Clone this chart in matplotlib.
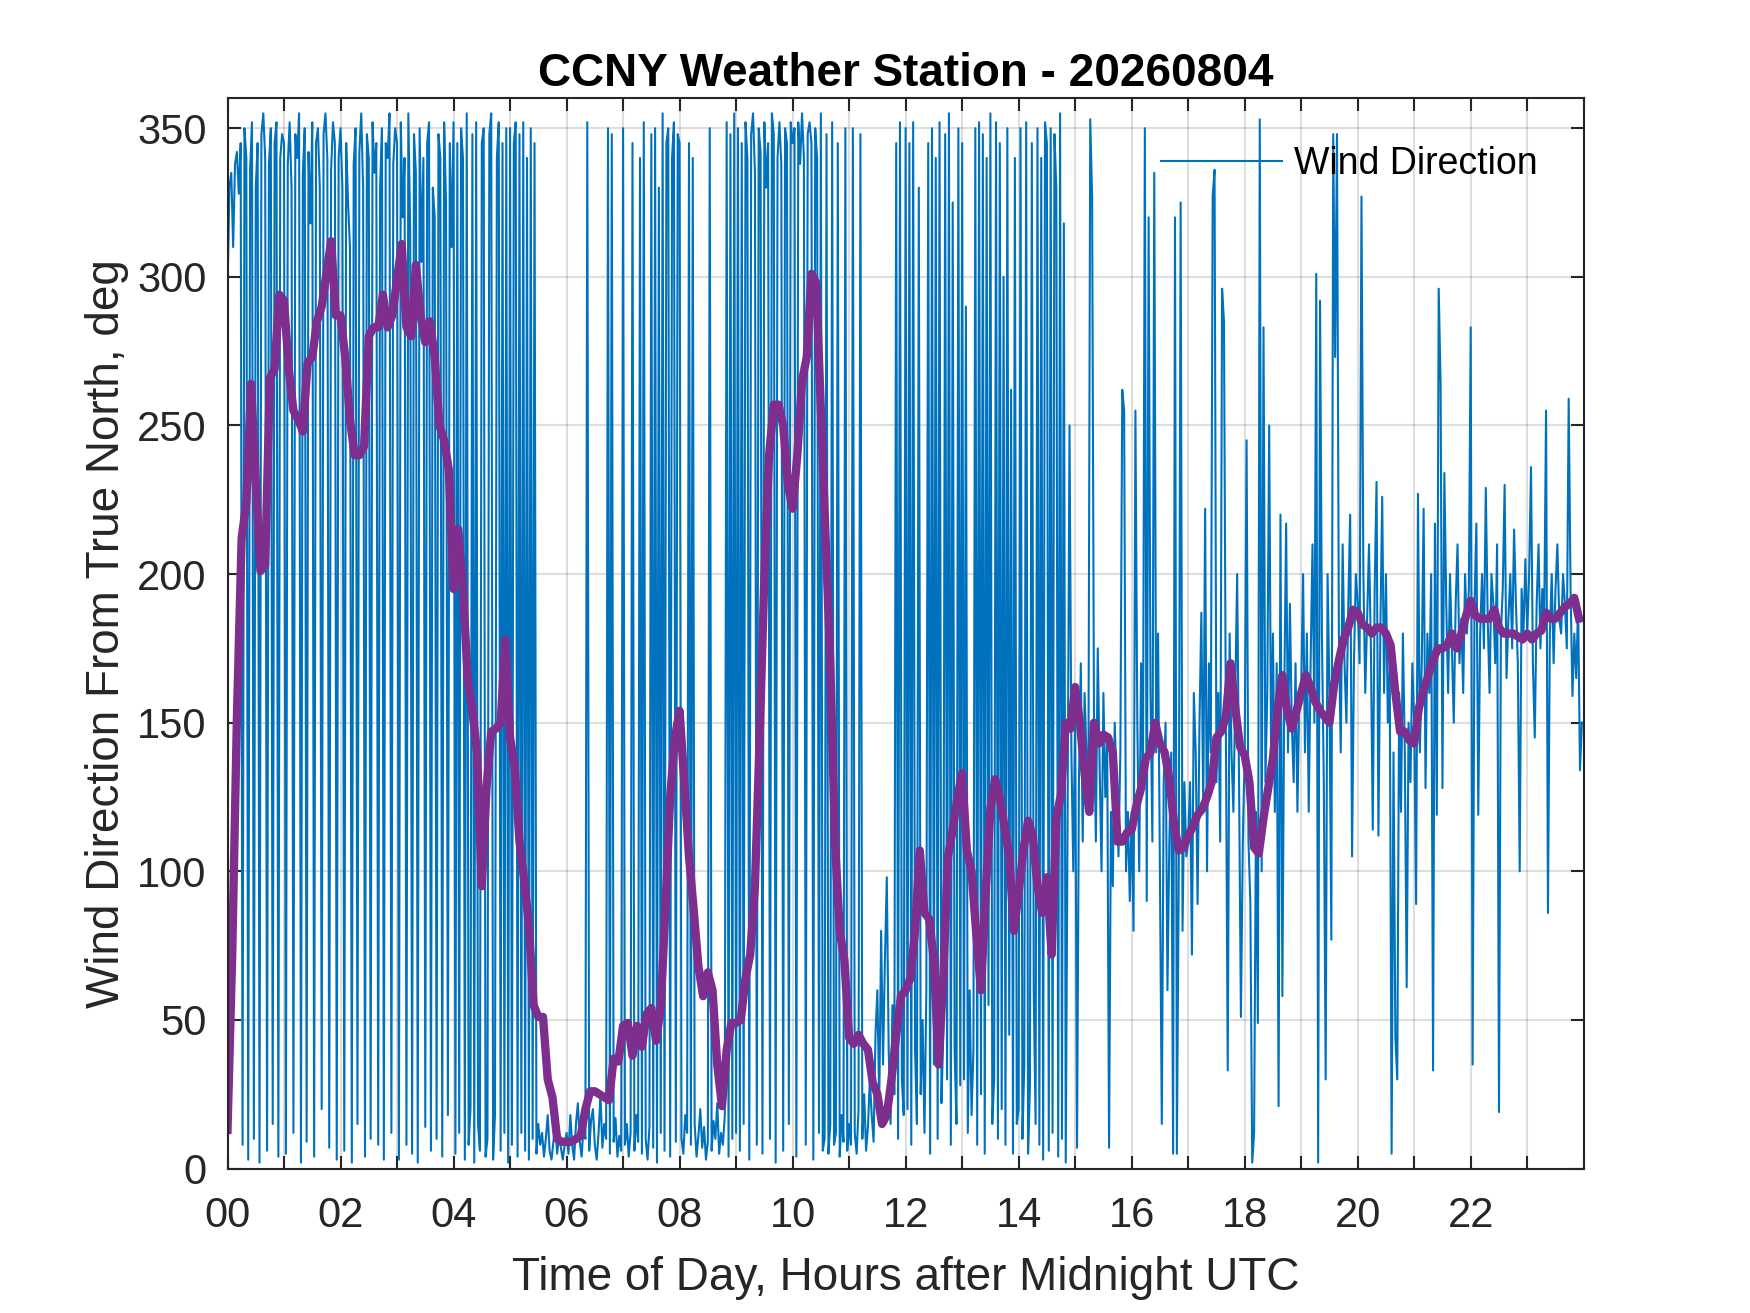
import numpy as np
import matplotlib.pyplot as plt

plt.rcParams["font.family"] = ["Liberation Sans", "DejaVu Sans"]

# raw wind direction, one value every 2 minutes (30 per hour), deg
dir_00_06 = [
    295, 330, 335, 310, 338, 342, 328, 345, 8, 350, 340, 3, 336, 352, 10, 330, 345, 2, 348, 355, 340, 6, 338, 350, 15, 345, 352, 4, 340, 348,
    345, 5, 338, 352, 330, 12, 348, 340, 355, 2, 335, 350, 9, 342, 318, 352, 4, 345, 350, 330, 20, 348, 355, 340, 7, 336, 352, 345, 3, 340,
    350, 330, 6, 345, 325, 310, 2, 338, 350, 15, 342, 355, 330, 4, 348, 340, 10, 352, 335, 345, 8, 330, 350, 3, 345, 340, 355, 12, 338, 350,
    345, 3, 352, 320, 340, 8, 355, 315, 5, 348, 335, 2, 350, 305, 340, 14, 345, 352, 6, 330, 320, 10, 348, 340, 4, 352, 325, 18, 345, 310,
    352, 5, 345, 12, 350, 340, 3, 355, 8, 20, 348, 2, 352, 15, 6, 345, 350, 4, 10, 348, 355, 3, 18, 340, 352, 6, 345, 12, 350, 2,
    350, 8, 345, 352, 4, 348, 12, 352, 6, 340, 3, 350, 10, 345, 5, 15, 8, 12, 4, 10, 18, 6, 3, 9, 14, 5, 11, 7, 3, 8,
]
dir_06_12 = [
    12, 5, 18, 8, 3, 15, 22, 9, 4, 14, 10, 352, 6, 16, 20, 8, 3, 12, 25, 7, 15, 10, 350, 5, 348, 9, 17, 4, 11, 6,
    350, 8, 15, 4, 12, 345, 6, 18, 9, 340, 5, 352, 10, 3, 14, 348, 7, 350, 2, 330, 12, 355, 6, 345, 350, 4, 340, 352, 9, 348,
    345, 10, 5, 18, 12, 345, 8, 340, 15, 4, 11, 20, 7, 14, 3, 9, 350, 6, 16, 10, 22, 5, 12, 8, 18, 352, 4, 348, 10, 355,
    12, 350, 6, 345, 15, 352, 340, 3, 348, 355, 335, 8, 350, 342, 5, 352, 330, 345, 10, 355, 348, 2, 340, 352, 338, 6, 350, 345, 15, 352,
    345, 350, 4, 352, 338, 355, 340, 8, 348, 352, 345, 3, 350, 340, 12, 355, 6, 10, 348, 5, 15, 352, 8, 12, 345, 4, 18, 9, 350, 6,
    15, 8, 350, 12, 5, 20, 348, 10, 25, 6, 14, 30, 18, 9, 45, 60, 22, 80, 35, 70, 98, 40, 15, 55, 25, 345, 10, 352, 30, 18,
]
dir_12_18 = [
    350, 20, 345, 8, 352, 40, 15, 330, 25, 50, 12, 60, 345, 5, 350, 35, 340, 10, 352, 22, 45, 348, 30, 355, 8, 325, 40, 15, 350, 28,
    345, 30, 290, 12, 60, 18, 40, 350, 8, 352, 25, 348, 5, 340, 55, 355, 15, 30, 352, 10, 345, 20, 300, 8, 350, 45, 262, 5, 340, 15,
    20, 350, 10, 35, 352, 5, 28, 345, 60, 15, 350, 8, 340, 3, 352, 345, 6, 350, 12, 348, 330, 4, 355, 10, 318, 2, 120, 250, 140, 100,
    155, 7, 130, 170, 110, 160, 140, 120, 353, 327, 150, 110, 175, 135, 100, 160, 125, 145, 7, 120, 95, 150, 130, 105, 140, 262, 255, 100, 120, 90,
    120, 80, 255, 150, 100, 170, 130, 350, 90, 320, 160, 110, 335, 140, 180, 100, 15, 130, 150, 60, 110, 140, 5, 320, 5, 100, 325, 80, 130, 105,
    110, 130, 72, 160, 140, 89, 150, 187, 120, 222, 100, 170, 140, 327, 336, 130, 160, 110, 296, 285, 150, 33, 180, 140, 120, 160, 200, 130, 51, 110,
]
dir_18_24 = [
    140, 245, 110, 90, 2, 12, 120, 49, 353, 100, 283, 130, 160, 250, 140, 180, 120, 170, 21, 220, 58, 160, 217, 140, 190, 150, 130, 170, 120, 160,
    160, 200, 140, 180, 120, 170, 210, 150, 301, 2, 292, 180, 130, 30, 200, 160, 77, 348, 273, 348, 180, 140, 210, 170, 150, 190, 220, 105, 170, 200,
    190, 170, 327, 200, 160, 185, 210, 175, 114, 195, 231, 112, 180, 226, 160, 200, 150, 170, 5, 140, 44, 30, 160, 120, 180, 140, 61, 150, 130, 170,
    150, 89, 227, 140, 170, 222, 128, 180, 160, 200, 33, 217, 119, 296, 264, 128, 234, 190, 160, 200, 175, 150, 190, 210, 170, 185, 160, 200, 180, 195,
    283, 35, 190, 217, 119, 180, 200, 175, 229, 185, 160, 200, 190, 170, 210, 19, 180, 195, 230, 165, 185, 200, 175, 215, 190, 170, 100, 195, 180, 205,
    180, 200, 236, 170, 145, 190, 210, 175, 195, 185, 255, 86, 180, 200, 170, 195, 210, 185, 180, 200, 190, 175, 259, 195, 159, 180, 165, 190, 134, 150,
]

# running mean direction, one value every 5 minutes (12 per hour), deg
avg_00_12 = [
    13, 72, 152, 212, 224, 264, 231, 201, 203, 266, 269, 294,
    292, 269, 255, 252, 248, 271, 273, 285, 290, 301, 312, 287,
    287, 273, 252, 240, 240, 243, 280, 283, 283, 294, 283, 287,
    299, 311, 283, 280, 304, 287, 278, 285, 273, 250, 245, 235,
    195, 215, 195, 165, 154, 140, 95, 128, 147, 148, 150, 178,
    145, 135, 110, 97, 82, 55, 51, 51, 30, 24, 10, 9,
    9, 9, 10, 11, 20, 26, 26, 25, 24, 23, 37, 36,
    48, 49, 38, 48, 41, 52, 54, 43, 54, 88, 125, 145,
    154, 130, 105, 87, 68, 58, 66, 60, 35, 21, 40, 49,
    49, 50, 64, 72, 95, 145, 199, 240, 257, 257, 250, 230,
    222, 240, 265, 273, 301, 298, 255, 212, 170, 110, 80, 70,
    44, 42, 45, 42, 40, 29, 25, 15, 18, 30, 45, 58,
]
avg_12_24 = [
    60, 64, 80, 107, 86, 84, 70, 35, 65, 105, 114, 125,
    133, 107, 100, 79, 60, 93, 121, 131, 125, 115, 105, 80,
    93, 107, 117, 112, 95, 86, 98, 72, 118, 126, 150, 148,
    162, 150, 133, 120, 150, 143, 146, 145, 140, 110, 110, 113,
    114, 122, 128, 138, 140, 150, 143, 140, 131, 116, 107, 108,
    112, 115, 119, 121, 125, 130, 145, 147, 152, 170, 155, 142,
    139, 130, 108, 106, 118, 128, 138, 155, 166, 154, 148, 154,
    160, 166, 162, 157, 154, 152, 150, 163, 171, 178, 182, 188,
    187, 183, 182, 180, 182, 182, 180, 176, 160, 147, 147, 144,
    143, 155, 161, 166, 171, 175, 175, 176, 180, 175, 180, 186,
    191, 186, 185, 185, 185, 188, 182, 180, 180, 180, 179, 178,
    180, 178, 180, 181, 187, 185, 185, 187, 189, 190, 192, 185,
]

hour_labels = ["00", "", "02", "", "04", "", "06", "", "08", "", "10", "", "12",
               "", "14", "", "16", "", "18", "", "20", "", "22", "", ""]

wind_dir = np.array(dir_00_06 + dir_06_12 + dir_12_18 + dir_18_24)
wind_avg = np.array(avg_00_12 + avg_12_24)
t_raw = np.arange(len(wind_dir)) * 2 / 60.0
t_avg = np.arange(len(wind_avg)) * 5 / 60.0

txt = "#262626"

fig = plt.figure(figsize=(1750 / 300, 1313 / 300), dpi=300)
ax = fig.add_axes([0.13, 0.11, 0.775, 0.815])

ax.plot(t_raw, wind_dir, color="#0072BD", linewidth=0.5, label="Wind Direction")
ax.plot(t_avg, wind_avg, color="#7E2F8E", linewidth=2.0)

ax.set_xlim(0, 24)
ax.set_ylim(0, 360)
ax.set_xticks(range(25))
ax.set_xticklabels(hour_labels)
ax.set_yticks(range(0, 351, 50))

ax.grid(True, color="#262626", alpha=0.15, linewidth=0.5)
ax.tick_params(direction="in", top=True, right=True, length=3.1, width=0.5,
               labelsize=10, colors=txt)
ax.tick_params(axis="x", pad=6.5)
ax.tick_params(axis="y", pad=5)
for sp in ax.spines.values():
    sp.set_linewidth(0.5)
    sp.set_color(txt)

ax.set_xlabel("Time of Day, Hours after Midnight UTC", fontsize=11, color=txt,
              labelpad=5)
ax.set_ylabel("Wind Direction From True North, deg", fontsize=11, color=txt,
              labelpad=2)
ax.set_title("CCNY Weather Station - 20260804", fontsize=11, fontweight="bold",
             color="black", pad=3)

ax.legend(loc="center left", bbox_to_anchor=(0.688, 0.939), frameon=False,
          fontsize=9, handlelength=3.25, handletextpad=0.3,
          borderpad=0, borderaxespad=0)

plt.savefig("out.png", dpi=300)
plt.close(fig)
